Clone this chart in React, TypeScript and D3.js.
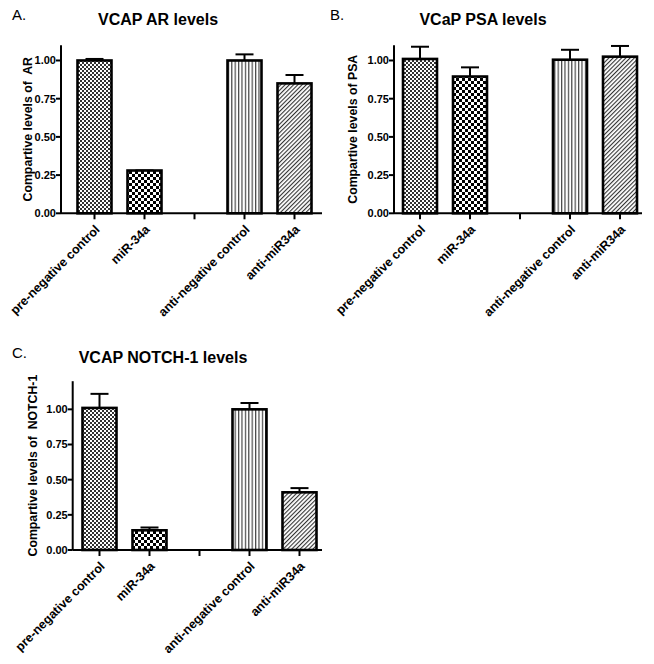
import React from 'react';
import * as d3 from 'd3';

// groups along the x axis ("" is the empty gap slot)
const groups = ['pre-negative control', 'miR-34a', '', 'anti-negative control', 'anti-miR34a'];
const yTicks = [0, 0.25, 0.5, 0.75, 1.0];

// panel A: VCAP AR
const arMeans = [1.0, 0.28, null, 1.0, 0.85];
const arErrTop = [1.01, 0.28, null, 1.04, 0.905];
// panel B: VCaP PSA
const psaMeans = [1.01, 0.895, null, 1.005, 1.025];
const psaErrTop = [1.09, 0.955, null, 1.07, 1.095];
// panel C: VCAP NOTCH-1
const notchMeans = [1.01, 0.14, null, 1.0, 0.41];
const notchErrTop = [1.11, 0.16, null, 1.045, 0.44];

const fills = ['url(#fineCheck)', 'url(#bigCheck)', 'none', 'url(#vLines)', 'url(#diag)'];
const font = '"Liberation Sans", Arial, Helvetica, sans-serif';

type PanelProps = {
  letter: string;
  title: string;
  yLabel: string;
  means: (number | null)[];
  errTop: (number | null)[];
  yMax: number;
  axisX: number;
  y0: number;
  yTop: number;
  firstCenter: number;
  xEnd: number;
  ox: number;
  oy: number;
  titleX: number;
  labelX: number;
};

function Panel(p: PanelProps) {
  const y = d3.scaleLinear().domain([0, p.yMax]).range([p.y0, p.yTop]);
  const x = d3
    .scaleBand<string>()
    .domain(groups.map((g, i) => i + ''))
    .range([p.firstCenter - 25, p.firstCenter + 225])
    .paddingInner(0.32)
    .paddingOuter(0.16);
  const bw = x.bandwidth();
  const cx = (i: number) => (x(i + '') as number) + bw / 2;
  return (
    <g fontFamily={font} fill="#000">
      <text x={p.ox + 12} y={p.oy + 20} fontSize={15}>{p.letter}</text>
      <text x={p.titleX} y={p.oy + 25} fontSize={16} fontWeight="bold" textAnchor="middle">{p.title}</text>
      <text
        transform={`translate(${p.labelX},${(p.y0 + p.yTop) / 2}) rotate(-90)`}
        fontSize={12.3}
        fontWeight="bold"
        textAnchor="middle"
        dy="0.35em"
        style={{ whiteSpace: 'pre' }}
      >{p.yLabel}</text>
      {/* bars */}
      {p.means.map((m, i) =>
        m == null ? null : (
          <g key={i}>
            <line x1={cx(i)} x2={cx(i)} y1={y(m)} y2={y(p.errTop[i] as number)} stroke="#000" strokeWidth={2} />
            <line x1={cx(i) - 9} x2={cx(i) + 9} y1={y(p.errTop[i] as number)} y2={y(p.errTop[i] as number)} stroke="#000" strokeWidth={2} />
            <rect x={x(i + '')} y={y(m)} width={bw} height={p.y0 - y(m)} fill={fills[i]} stroke="#000" strokeWidth={2.6} />
          </g>
        )
      )}
      {/* y axis */}
      <line x1={p.axisX} x2={p.axisX} y1={p.yTop} y2={p.y0} stroke="#000" strokeWidth={2} />
      {yTicks.map(t => (
        <g key={t}>
          <line x1={p.axisX - 5} x2={p.axisX} y1={y(t)} y2={y(t)} stroke="#000" strokeWidth={2} />
          <text x={p.axisX - 5} y={y(t)} dy="0.35em" fontSize={11} fontWeight="bold" textAnchor="end">{d3.format('.2f')(t)}</text>
        </g>
      ))}
      {/* x axis */}
      <line x1={p.axisX} x2={p.xEnd} y1={p.y0} y2={p.y0} stroke="#000" strokeWidth={2} />
      {groups.map((g, i) => (
        <g key={i}>
          <line x1={cx(i)} x2={cx(i)} y1={p.y0} y2={p.y0 + 6} stroke="#000" strokeWidth={2} />
          {g && (
            <text
              transform={`translate(${cx(i) + 6},${p.y0 + 17}) rotate(-45)`}
              fontSize={12.5}
              fontWeight="bold"
              textAnchor="end"
            >{g}</text>
          )}
        </g>
      ))}
    </g>
  );
}

export default function App() {
  return (
    <svg width={654} height={664} style={{ position: 'absolute', left: 0, top: 0, background: '#fff' }}>
      <defs>
        <pattern id="fineCheck" width={4} height={4} patternUnits="userSpaceOnUse">
          <rect width={4} height={4} fill="#fff" />
          <rect width={2} height={2} fill="#333" />
          <rect x={2} y={2} width={2} height={2} fill="#333" />
        </pattern>
        <pattern id="bigCheck" width={6} height={6} patternUnits="userSpaceOnUse">
          <rect width={6} height={6} fill="#fff" />
          <rect width={3} height={3} fill="#000" />
          <rect x={3} y={3} width={3} height={3} fill="#000" />
        </pattern>
        <pattern id="vLines" width={3.4} height={4} patternUnits="userSpaceOnUse">
          <rect width={3.4} height={4} fill="#fff" />
          <rect width={1.2} height={4} fill="#444" />
        </pattern>
        <pattern id="diag" width={3} height={3} patternUnits="userSpaceOnUse" patternTransform="rotate(45)">
          <rect width={3} height={3} fill="#fff" />
          <rect width={1.1} height={3} fill="#333" />
        </pattern>
      </defs>
      <rect width={654} height={664} fill="#fff" />
      <Panel letter="A." title="VCAP AR levels" yLabel="Compartive levels of  AR"
        means={arMeans} errTop={arErrTop} yMax={1.1}
        axisX={61} y0={213.3} yTop={45.2} firstCenter={94.5} xEnd={322}
        ox={0} oy={0} titleX={158} labelX={28} />
      <Panel letter="B." title="VCaP PSA levels" yLabel="Compartive levels of PSA"
        means={psaMeans} errTop={psaErrTop} yMax={1.1}
        axisX={394} y0={213.3} yTop={45.2} firstCenter={420} xEnd={642}
        ox={318} oy={0} titleX={483} labelX={353} />
      <Panel letter="C." title="VCAP NOTCH-1 levels" yLabel="Compartive levels of  NOTCH-1"
        means={notchMeans} errTop={notchErrTop} yMax={1.2}
        axisX={72.7} y0={550} yTop={381.2} firstCenter={99.5} xEnd={322}
        ox={0} oy={338} titleX={163} labelX={33} />
    </svg>
  );
}
